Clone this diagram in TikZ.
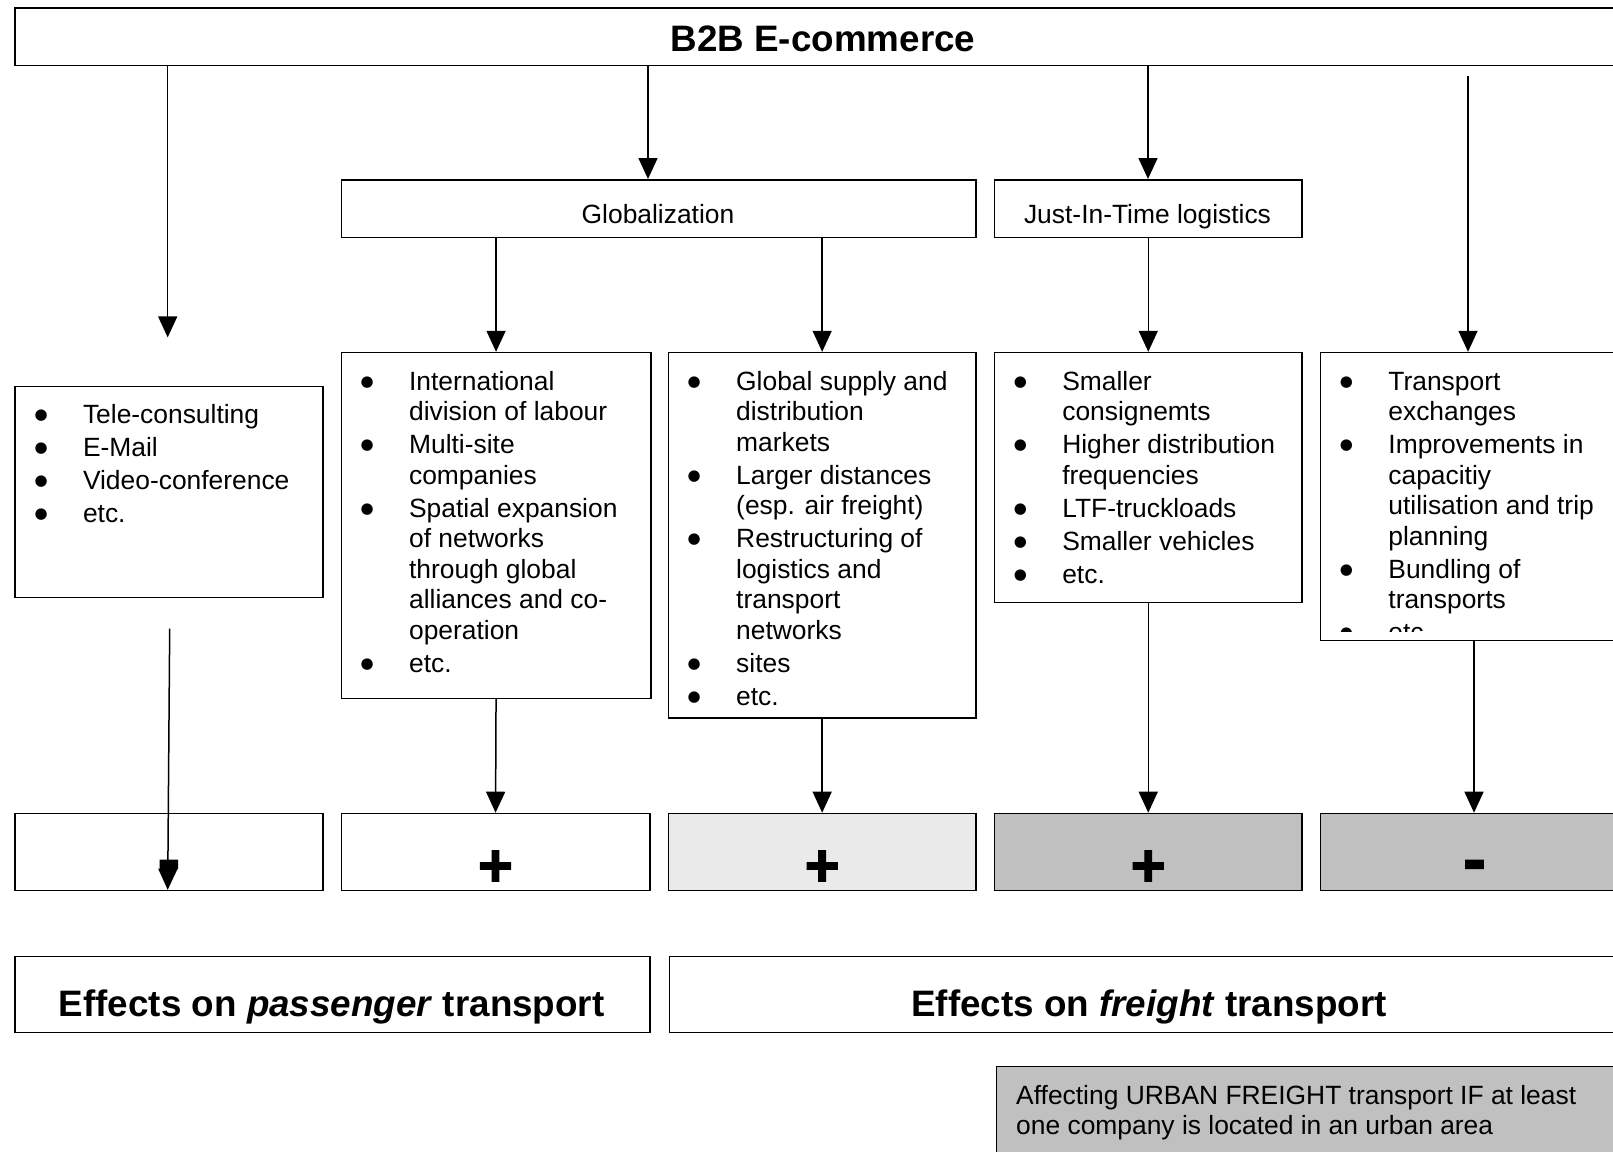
\documentclass[tikz,border=0pt]{standalone}
\usepackage{fontspec}
\setmainfont{Liberation Sans}
\newfontfamily\djv{DejaVu Sans}
\usetikzlibrary{arrows.meta}
\definecolor{lgray}{HTML}{EAEAEA}
\definecolor{mgray}{HTML}{C0C0C0}
\newcommand\bu{\makebox[47pt][l]{\hspace{-1.5pt}\raisebox{4pt}{\djv\fontsize{15}{15}\selectfont ●}}}
\newcommand\blfont{\fontsize{26.4}{30.5}\selectfont}
\newcommand\nx{\\[2.5pt]}
\newcommand\lst[1]{\begin{tabular}[t]{@{}l@{}l@{}}#1\end{tabular}}
\begin{document}
\begin{tikzpicture}[x=1pt,y=-1pt,
  box/.style={draw=black, line width=1.5pt, inner sep=0pt, anchor=north west},
  arr/.style={line width=1.5pt, -{Triangle[width=19pt,length=21pt]}},
  lstnode/.style={anchor=base west, inner sep=0pt, font=\blfont},
  txt/.style={anchor=base, inner sep=0pt, font=\blfont},
  big/.style={anchor=base, inner sep=0pt, font=\fontsize{36.8}{40}\selectfont\bfseries},
  sign/.style={anchor=base, inner sep=0pt, font=\fontsize{60}{60}\selectfont\bfseries\addfontfeature{FakeBold=2}},
  msign/.style={anchor=base, inner sep=0pt, font=\fontsize{68}{68}\selectfont\bfseries\addfontfeature{FakeBold=2}}]
\useasboundingbox (0,0) rectangle (1613,1151);
\clip (0,0) rectangle (1613,1151);

% boxes
\node[box, minimum width=1609.6pt, minimum height=57.5pt] (title) at (14.4,7) {};
\node[box, minimum width=634.7pt, minimum height=57.6pt] (glob) at (340.5,179) {};
\node[box, minimum width=307.6pt, minimum height=57.6pt] (jit) at (993.7,179) {};
\node[box, minimum width=307.6pt, minimum height=210.9pt] (b1) at (14.4,385.8) {};
\node[box, minimum width=309.6pt, minimum height=345.7pt] (b2) at (340.5,351.8) {};
\node[box, minimum width=307.6pt, minimum height=365.2pt] (b3) at (667.6,351.8) {};
\node[box, minimum width=307.6pt, minimum height=250pt] (b4) at (993.7,351.8) {};
\node[box, minimum width=307.6pt, minimum height=288pt] (b5) at (1319.8,351.8) {};
\node[box, minimum width=307.6pt, minimum height=77.1pt] (r1) at (14.4,812.7) {};
\node[box, minimum width=308.6pt, minimum height=77.1pt] (r2) at (340.5,812.7) {};
\node[box, fill=lgray, minimum width=307.6pt, minimum height=77.1pt] (r3) at (667.6,812.7) {};
\node[box, fill=mgray, minimum width=307.6pt, minimum height=77.1pt] (r4) at (993.7,812.7) {};
\node[box, fill=mgray, minimum width=307.6pt, minimum height=77.1pt] (r5) at (1319.8,812.7) {};
\node[box, minimum width=634.7pt, minimum height=76.1pt] (ep) at (14.4,955.7) {};
\node[box, minimum width=960pt, minimum height=76.1pt] (ef) at (668.7,955.7) {};
\node[box, fill=mgray, minimum width=640pt, minimum height=120pt] (urb) at (995.8,1065.8) {};

% texts
\node[big] (ttl) at (823,51) {B2B E-commerce};
\node[txt] (globt) at (658,223) {Globalization};
\node[txt] (jitt) at (1147.5,223) {Just-In-Time logistics};
\node[lstnode] (l1) at (35.8,423.5) {\lst{%
\bu & Tele-consulting\nx
\bu & E-Mail\nx
\bu & Video-conference\nx
\bu & etc.}};
\node[lstnode] (l2) at (361.9,390) {\lst{%
\bu & International\\
    & division of labour\nx
\bu & Multi-site\\
    & companies\nx
\bu & Spatial expansion\\
    & of networks\\
    & through global\\
    & alliances and co-\\
    & operation\nx
\bu & etc.}};
\node[lstnode] (l3) at (689,390) {\lst{%
\bu & Global supply and\\
    & distribution\\
    & markets\nx
\bu & Larger distances\\
    & (esp. air freight)\nx
\bu & Restructuring of\\
    & logistics and\\
    & transport\\
    & networks\nx
\bu & sites\nx
\bu & etc.}};
\node[lstnode] (l4) at (1015.1,390) {\lst{%
\bu & Smaller\\
    & consignemts\nx
\bu & Higher distribution\\
    & frequencies\nx
\bu & LTF-truckloads\nx
\bu & Smaller vehicles\nx
\bu & etc.}};
\begin{scope}
\clip (1319.8,351.8) rectangle (1627,631);
\node[lstnode] (l5) at (1341.2,390) {\lst{%
\bu & Transport\\
    & exchanges\nx
\bu & Improvements in\\
    & capacitiy\\
    & utilisation and trip\\
    & planning\nx
\bu & Bundling of\\
    & transports\nx
\bu & etc.}};
\end{scope}

\node[msign] (s1) at (r1.center |- 0,882) {-};
\node[sign] (s2) at (r2.center |- 0,886) {+};
\node[sign] (s3) at (r3.center |- 0,886) {+};
\node[sign] (s4) at (r4.center |- 0,886) {+};
\node[msign] (s5) at (1474.5,882) {-};

\node[big] (ept) at (331.7,1016) {Effects on \textit{passenger} transport};
\node[big] (eft) at (1149,1016) {Effects on \textit{freight} transport};
\node[lstnode] (urbt) at (1016,1104) {\begin{tabular}[t]{@{}l@{}}Affecting URBAN FREIGHT transport IF at least\\ one company is located in an urban area\end{tabular}};

% connectors
\coordinate (a1e) at (167.7,337.4);
\coordinate (x2) at (648,0);
\coordinate (x3) at (1148,0);
\coordinate (a4s) at (1468,76);
\coordinate (x5b) at (1474,0);
\coordinate (a6s) at (169.7,628.5);
\coordinate (a6e) at (167.7,889.8);
\draw[arr] (title.south -| a1e) -- (a1e);
\draw[arr] (title.south -| x2) -- (glob.north -| x2);
\draw[arr] (title.south -| x3) -- (jit.north -| x3);
\draw[arr] (a4s) -- (b5.north -| a4s);
\draw[arr] (glob.south -| b2.north) -- (b2.north);
\draw[arr] (glob.south -| b3.north) -- (b3.north);
\draw[arr] (jit.south -| b4.north) -- (b4.north);
\draw[arr] (b2.south) -- (r2.north);
\draw[arr] (b3.south) -- (r3.north);
\draw[arr] (b4.south) -- (r4.north);
\draw[arr] (b5.south -| x5b) -- (r5.north -| x5b);
\draw[arr] (a6s) -- (a6e);
\end{tikzpicture}
\end{document}
